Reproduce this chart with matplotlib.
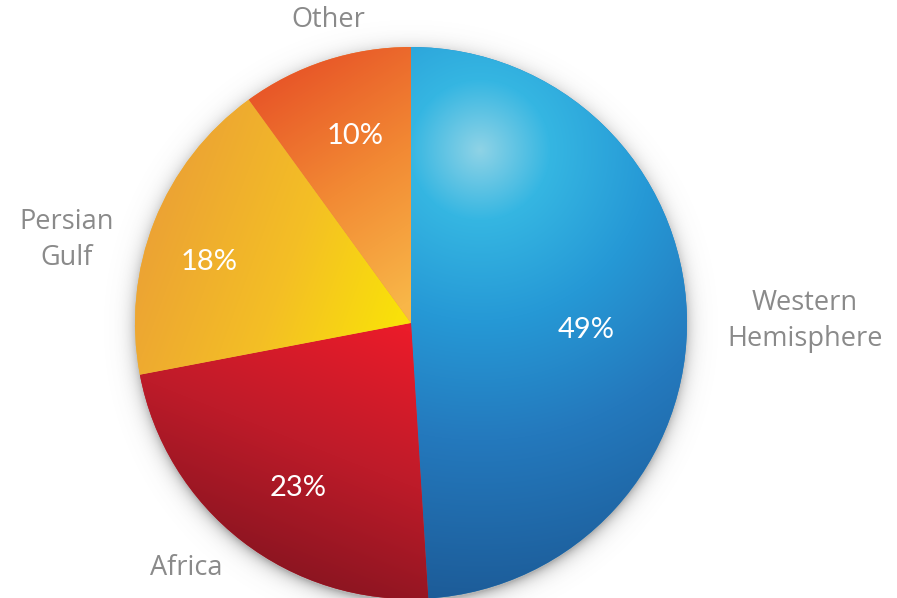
import matplotlib
matplotlib.use('Agg')
from matplotlib import pyplot as plt
import numpy as np

labels = ['Western\nHemisphere', 'Africa', 'Persian\nGulf', 'Other']
shares = [49, 23, 18, 10]
pct_text = ['49%', '23%', '18%', '10%']

W, H = 897, 598
CX, CY, R = 411, 598 - 323, 276


def lerp_stops(t, stops):
    """Interpolate rgb colours along stops [(t, (r,g,b)), ...]."""
    ts = [s[0] for s in stops]
    out = np.zeros(t.shape + (3,))
    for k in range(3):
        out[..., k] = np.interp(t, ts, [s[1][k] for s in stops])
    return out


def hexrgb(h):
    h = h.lstrip('#')
    return tuple(int(h[i:i + 2], 16) / 255 for i in (0, 2, 4))


def linear_grad(xx, yy, p0, p1, stops):
    # p0/p1 in image coords (y down)
    x0, y0 = p0[0], H - p0[1]
    x1, y1 = p1[0], H - p1[1]
    dx, dy = x1 - x0, y1 - y0
    t = ((xx - x0) * dx + (yy - y0) * dy) / (dx * dx + dy * dy)
    return lerp_stops(np.clip(t, 0, 1), stops)


def radial_grad(xx, yy, c, stops):
    d = np.hypot(xx - c[0], yy - (H - c[1]))
    return lerp_stops(d, stops)


fig = plt.figure(figsize=(W / 100, H / 100), dpi=100)
ax = fig.add_axes([0, 0, 1, 1])

xs = np.arange(W) + 0.5
ys = np.arange(H) + 0.5
xx, yy = np.meshgrid(xs, ys)

# soft shadow around the pie
d = np.hypot(xx - CX, yy - (CY - 4))
shadow = np.zeros((H, W, 4))
shadow[..., :3] = 0.35
shadow[..., 3] = np.where(d > R - 2, 0.45 * np.exp(-np.clip(d - R + 2, 0, None) / 7.0), 0.45)
ax.imshow(shadow, extent=(0, W, 0, H), origin='lower', zorder=0, interpolation='bilinear')

wedges, _ = ax.pie(shares, startangle=90, counterclock=False, center=(CX, CY),
                   radius=R, colors=['#2485c5', '#c41c28', '#f3b52a', '#ef8030'],
                   wedgeprops=dict(linewidth=0))

grads = [
    radial_grad(xx, yy, (480, 150), [
        (0, hexrgb('#8fd3e6')), (70, hexrgb('#35b6e2')), (170, hexrgb('#2699d6')),
        (290, hexrgb('#2479bd')), (460, hexrgb('#1c5a96'))]),
    linear_grad(xx, yy, (405, 330), (300, 595), [
        (0, hexrgb('#ea1c2a')), (0.5, hexrgb('#bd1b29')), (1, hexrgb('#861420'))]),
    linear_grad(xx, yy, (150, 230), (395, 320), [
        (0, hexrgb('#eca334')), (0.55, hexrgb('#f4bf25')), (1, hexrgb('#f9e00a'))]),
    linear_grad(xx, yy, (270, 85), (410, 300), [
        (0, hexrgb('#e85728')), (0.5, hexrgb('#f28a34')), (1, hexrgb('#f8b648'))]),
]

for w, g in zip(wedges, grads):
    im = ax.imshow(g, extent=(0, W, 0, H), origin='lower', zorder=2,
                   interpolation='bilinear')
    im.set_clip_path(w)

ax.set_xlim(0, W)
ax.set_ylim(0, H)
ax.set_aspect('equal')
ax.axis('off')

label_font = ['Open Sans', 'DejaVu Sans']
pct_font = ['Lato', 'DejaVu Sans']
grey = '#8a8a8a'

# outside labels (image coords)
label_pos = [(805, 321), (186, 568), (67, 240), (328, 20)]
for txt, (x, y) in zip(labels, label_pos):
    ax.text(x, H - y, txt, ha='center', va='center', color=grey, fontsize=19.5,
            family=label_font, linespacing=1.4, zorder=5)

pct_pos = [(586, 330), (298, 488), (209, 262), (355, 136)]
for txt, (x, y) in zip(pct_text, pct_pos):
    ax.text(x, H - y, txt, ha='center', va='center', color='white', fontsize=21,
            family=pct_font, zorder=5)

fig.savefig('out.png', dpi=100, facecolor='white')
